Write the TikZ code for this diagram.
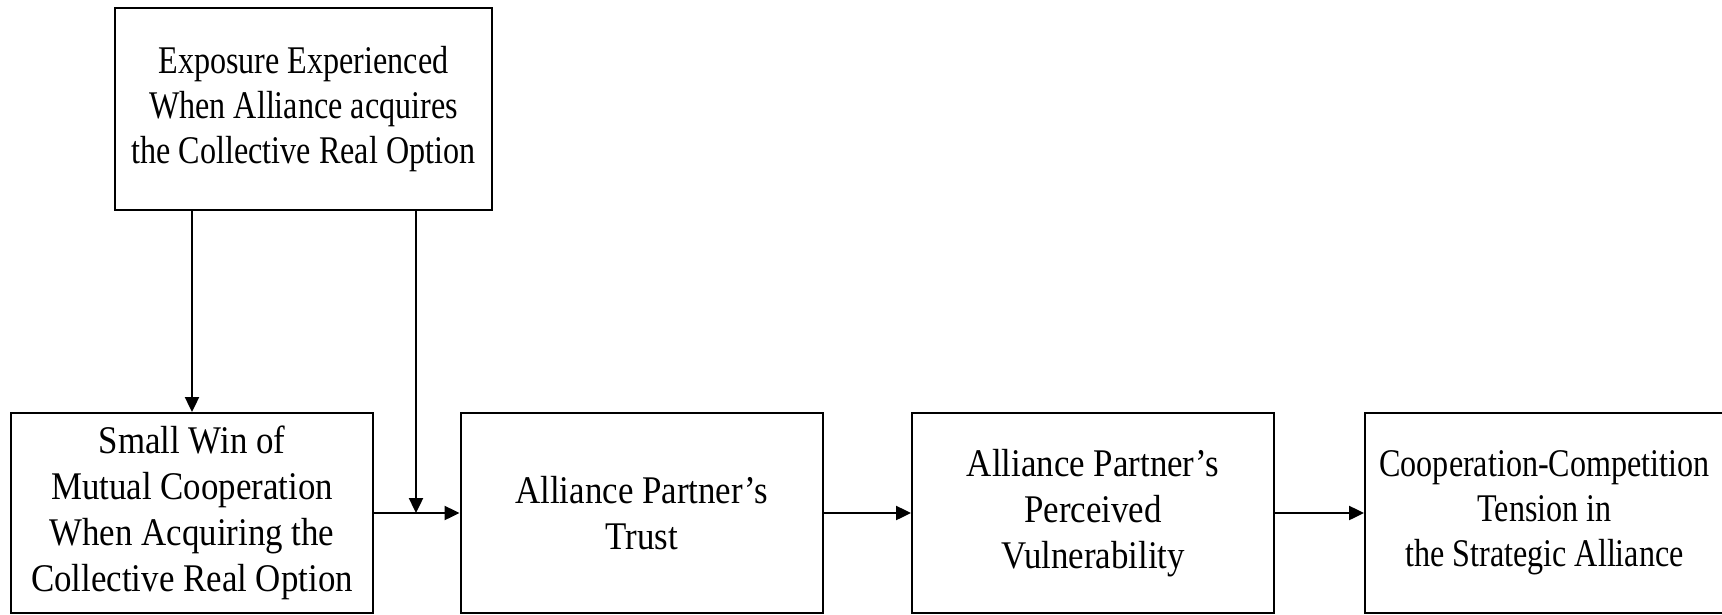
\documentclass[tikz,border=0pt]{standalone}
\usepackage{fontspec}
\setmainfont{Liberation Serif}[FakeStretch=0.89]
\newfontfamily\narrowserif{Liberation Serif}[FakeStretch=0.82]
\usetikzlibrary{arrows.meta}

\tikzset{
  box/.style={rectangle, draw, line width=1pt, align=center, inner sep=0pt,
    minimum width=181pt, minimum height=100pt, font=\fontsize{19.6}{23}\selectfont},
  narrowbox/.style={box, font=\fontsize{19.6}{22.5}\selectfont\narrowserif},
  arr/.style={-{Triangle[length=7.5pt,width=7pt]}, line width=1.2pt}
}

\begin{document}
\begin{tikzpicture}[x=0.5pt, y=-0.5pt]
      \useasboundingbox (0,0) rectangle (1722,615);
      \clip (0,0) rectangle (1722,615);

      \node[narrowbox, minimum width=188.5pt, minimum height=101pt] (expo) at (303.5,109)
        {Exposure Experienced\\When Alliance acquires\\the Collective Real Option};

      \node[box] (smallwin) at (192,513)
        {Small Win of\\Mutual Cooperation\\When Acquiring the\\Collective Real Option};
      \node[box] (trust) at (641.5,513) {Alliance Partner’s\\Trust};
      \node[box] (vuln) at (1093,513) {Alliance Partner’s\\Perceived\\Vulnerability};
      \node[narrowbox, minimum width=179.5pt] (tension) at (1544.5,513)
        {Cooperation-Competition\\Tension in\\the Strategic Alliance};

      \coordinate (join) at (416,513);

      \draw[arr] (smallwin.north |- expo.south) -- (smallwin.north);
      \draw[arr] (join |- expo.south) -- (join);
      \draw[arr] (smallwin) -- (trust);
      \draw[arr] (trust) -- (vuln);
      \draw[arr] (vuln) -- (tension);

    \end{tikzpicture}
\end{document}
